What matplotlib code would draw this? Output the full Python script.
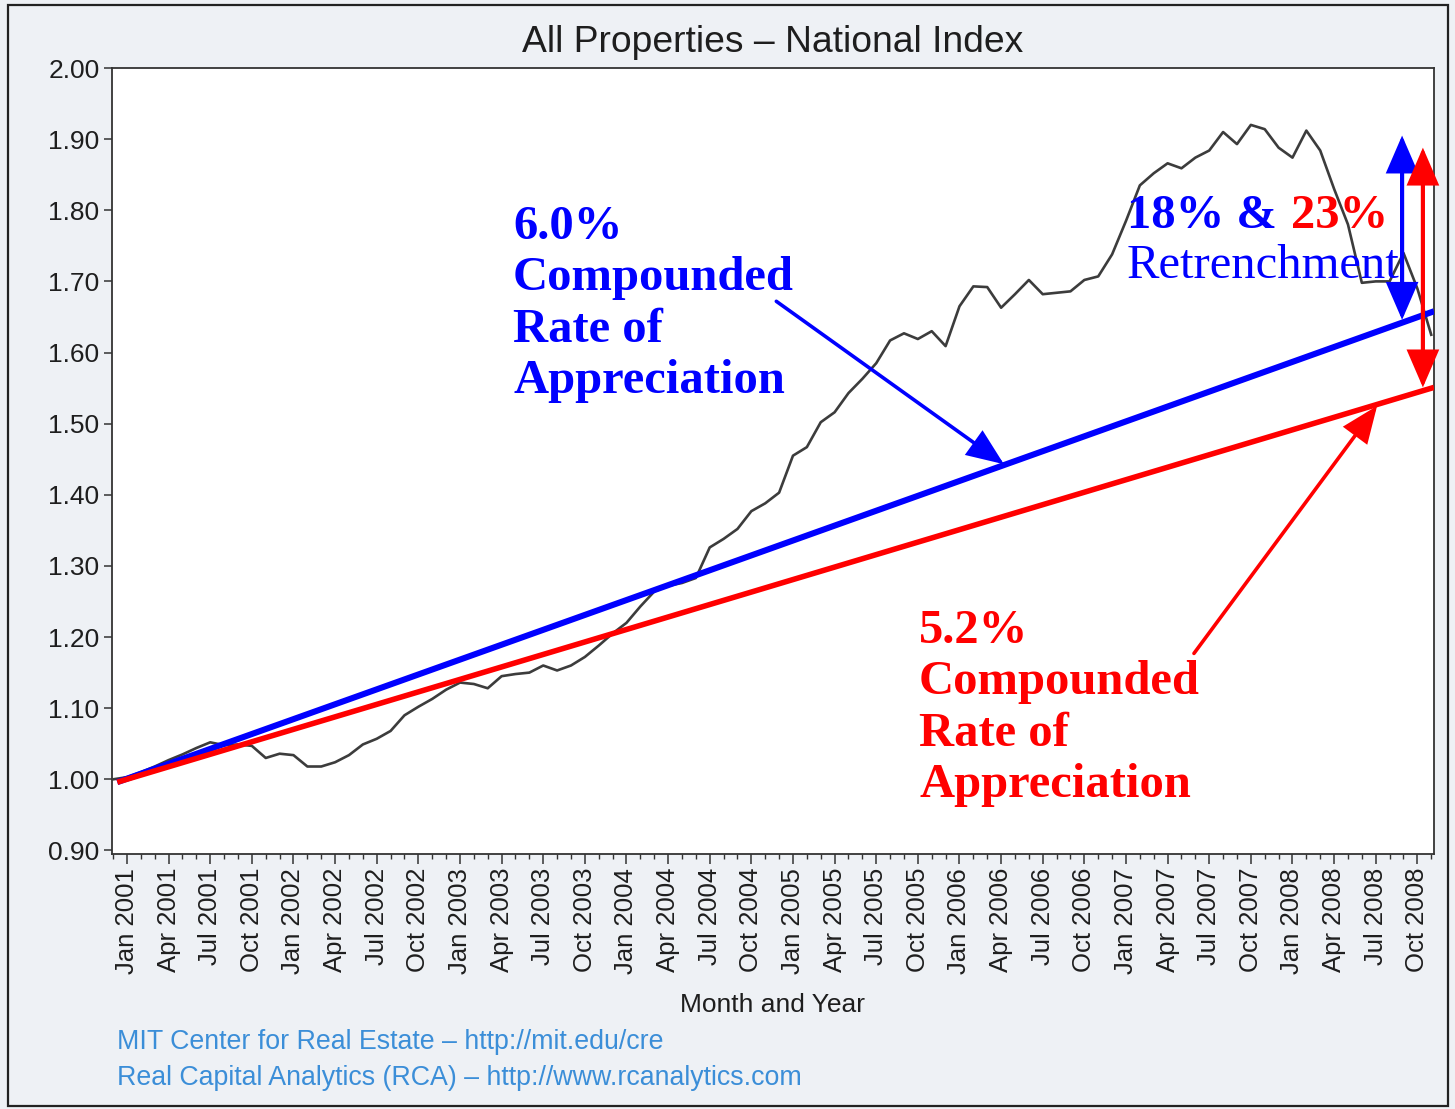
import matplotlib
matplotlib.use('Agg')
import matplotlib.pyplot as plt
import numpy as np
from matplotlib.patches import FancyArrowPatch, Rectangle

# ---------------- data ----------------
# monthly index, Dec 2000 .. Nov 2008 (month offset from Jan 2001: -1 .. 94)
index_values = [
    1.000,
    1.003, 1.010, 1.018, 1.027, 1.035, 1.044, 1.052, 1.048, 1.049, 1.047, 1.030, 1.036,   # 2001
    1.034, 1.018, 1.018, 1.024, 1.034, 1.049, 1.057, 1.068, 1.090, 1.102, 1.113, 1.126,   # 2002
    1.136, 1.134, 1.128, 1.145, 1.148, 1.150, 1.160, 1.153, 1.160, 1.172, 1.188, 1.205,   # 2003
    1.220, 1.243, 1.264, 1.272, 1.276, 1.283, 1.326, 1.338, 1.352, 1.377, 1.388, 1.403,   # 2004
    1.455, 1.467, 1.502, 1.516, 1.543, 1.563, 1.585, 1.617, 1.627, 1.619, 1.630, 1.609,   # 2005
    1.665, 1.693, 1.692, 1.663, 1.682, 1.702, 1.682, 1.684, 1.686, 1.702, 1.707, 1.738,   # 2006
    1.785, 1.835, 1.852, 1.866, 1.859, 1.874, 1.884, 1.910, 1.893, 1.920, 1.914, 1.888,   # 2007
    1.874, 1.912, 1.884, 1.830, 1.780, 1.698, 1.700, 1.700, 1.740, 1.690, 1.625,          # 2008
]
first_month = -1

tick_labels = [
    'Jan 2001', 'Apr 2001', 'Jul 2001', 'Oct 2001',
    'Jan 2002', 'Apr 2002', 'Jul 2002', 'Oct 2002',
    'Jan 2003', 'Apr 2003', 'Jul 2003', 'Oct 2003',
    'Jan 2004', 'Apr 2004', 'Jul 2004', 'Oct 2004',
    'Jan 2005', 'Apr 2005', 'Jul 2005', 'Oct 2005',
    'Jan 2006', 'Apr 2006', 'Jul 2006', 'Oct 2006',
    'Jan 2007', 'Apr 2007', 'Jul 2007', 'Oct 2007',
    'Jan 2008', 'Apr 2008', 'Jul 2008', 'Oct 2008',
]
y_ticks = [0.90, 1.00, 1.10, 1.20, 1.30, 1.40, 1.50, 1.60, 1.70, 1.80, 1.90, 2.00]

# trend lines (start / end in month offset and index value)
trend_x = [-0.7, 94.2]
trend_6pct = [0.996, 1.658]
trend_52pct = [0.996, 1.551]

# annotation arrows (month offset, index value)
blue_pointer = [(46.8, 1.672), (63.2, 1.443)]
red_pointer = [(76.9, 1.177), (90.1, 1.525)]
blue_span = [(91.9, 1.905), (91.9, 1.646)]
red_span = [(93.4, 1.888), (93.4, 1.551)]

title = 'All Properties \u2013 National Index'
xlabel = 'Month and Year'
footer = ['MIT Center for Real Estate \u2013 http://mit.edu/cre',
          'Real Capital Analytics (RCA) \u2013 http://www.rcanalytics.com']
blue_text = ['6.0%', 'Compounded', 'Rate of', 'Appreciation']
red_text = ['5.2%', 'Compounded', 'Rate of', 'Appreciation']

# ---------------- figure ----------------
W, H, DPI = 1455, 1109, 100
SANS = ['Liberation Sans', 'DejaVu Sans']
SERIF = ['Liberation Serif', 'DejaVu Serif']
BLUE = '#0000ff'
RED = '#ff0000'
TXT = '#1e1e1e'

fig = plt.figure(figsize=(W / DPI, H / DPI), dpi=DPI, facecolor='#eef1f5')

def fx(px):
    return px / W

def fy(py):
    return 1 - py / H

# outer frame
fig.patches.append(Rectangle((fx(8), fy(1106)), fx(1448) - fx(8), fy(5) - fy(1106),
                             transform=fig.transFigure, fill=False,
                             edgecolor='#222222', linewidth=1.6, zorder=0))

ax = fig.add_axes([fx(112), fy(854), fx(1434) - fx(112), fy(68) - fy(854)])
ax.set_facecolor('white')

months = np.arange(first_month, first_month + len(index_values))
ax.plot(months, index_values, color='#3c3c3c', linewidth=1.9, zorder=3, clip_on=False)

ax.plot(trend_x, trend_6pct, color=BLUE, linewidth=4.4, zorder=4, solid_capstyle='butt')
ax.plot(trend_x, trend_52pct, color=RED, linewidth=4.0, zorder=4, solid_capstyle='butt')

ax.set_xlim(-1.08, 94.2)
ax.set_ylim(0.895, 2.0)

major_pos = np.arange(0, 3 * len(tick_labels), 3)
ax.set_xticks(major_pos)
ax.set_xticklabels(tick_labels, rotation=90, fontsize=18.5, family=SANS, color=TXT)
ax.set_xticks(np.arange(-1, 95), minor=True)
ax.set_yticks(y_ticks)
ax.set_yticklabels(['%.2f' % v for v in y_ticks], fontsize=19, family=SANS, color=TXT)
ax.tick_params(axis='x', which='major', direction='out', length=7, width=1.1, color='#333333', pad=3)
ax.tick_params(axis='x', which='minor', direction='out', length=3.5, width=1.0, color='#333333')
ax.tick_params(axis='y', which='major', direction='out', length=6, width=1.1, color='#333333', pad=3)
for s in ax.spines.values():
    s.set_color('#333333')
    s.set_linewidth(1.3)

# pointers and spans
def arrow(p0, p1, color, style, lw):
    a = FancyArrowPatch(p0, p1, arrowstyle=style, color=color, linewidth=lw,
                        mutation_scale=1, shrinkA=0, shrinkB=0, zorder=6,
                        clip_on=False, joinstyle='miter')
    ax.add_patch(a)

arrow(blue_pointer[0], blue_pointer[1], BLUE, '-|>,head_length=22,head_width=9', 2.6)
arrow(red_pointer[0], red_pointer[1], RED, '-|>,head_length=22,head_width=9', 2.6)
arrow(blue_span[0], blue_span[1], BLUE, '<|-|>,head_length=22,head_width=9.5', 3.0)
arrow(red_span[0], red_span[1], RED, '<|-|>,head_length=22,head_width=9.5', 3.0)

# title, axis label, footer
fig.text(fx(773), fy(52), title, ha='center', va='baseline', fontsize=26.8,
         family=SANS, color=TXT)
fig.text(fx(773), fy(1012), xlabel, ha='center', va='baseline', fontsize=19,
         family=SANS, color=TXT)
fig.text(fx(117), fy(1049), footer[0], ha='left', va='baseline', fontsize=19.3,
         family=SANS, color='#3b8ed8')
fig.text(fx(117), fy(1085), footer[1], ha='left', va='baseline', fontsize=19.3,
         family=SANS, color='#3b8ed8')

# big annotation texts
for i, line in enumerate(blue_text):
    fig.text(fx(513), fy(239 + 51.3 * i), line, ha='left', va='baseline', fontsize=35,
             family=SERIF, weight='bold', color=BLUE, zorder=7)
for i, line in enumerate(red_text):
    fig.text(fx(919), fy(643 + 51.3 * i), line, ha='left', va='baseline', fontsize=35,
             family=SERIF, weight='bold', color=RED, zorder=7)

t1 = fig.text(fx(1127), fy(228), '18% &', ha='left', va='baseline', fontsize=35,
              family=SERIF, weight='bold', color=BLUE, zorder=7)
fig.canvas.draw()
bb = t1.get_window_extent(renderer=fig.canvas.get_renderer())
fig.text((bb.x1 + 14) / W, fy(228), '23%', ha='left', va='baseline', fontsize=35,
         family=SERIF, weight='bold', color=RED, zorder=7)
fig.text(fx(1127), fy(278), 'Retrenchment', ha='left', va='baseline', fontsize=35,
         family=SERIF, color=BLUE, zorder=7)

fig.savefig('out.png', dpi=DPI, facecolor=fig.get_facecolor())
